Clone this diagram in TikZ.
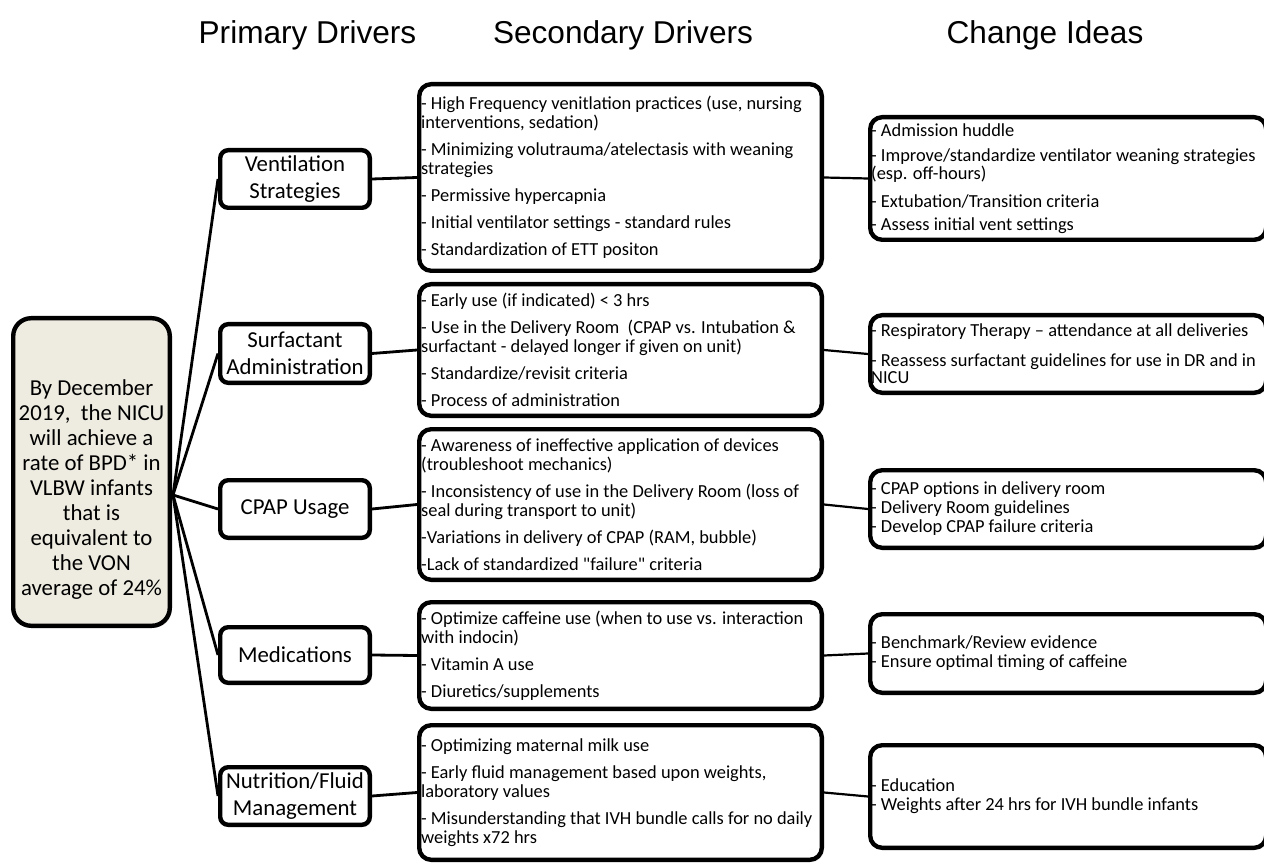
\documentclass[tikz,border=0pt]{standalone}
\usepackage{fontspec}
\setmainfont{Carlito}
\newfontfamily\headfont{Liberation Sans}
\usetikzlibrary{positioning}
\usetikzlibrary{shadows}
\definecolor{goalfill}{HTML}{EEECE1}

\begin{document}
\begin{tikzpicture}[x=0.5pt, y=-0.5pt,
    box/.style={draw, line width=2.2pt, fill=white, inner xsep=1pt, inner ysep=0pt,
      drop shadow={shadow xshift=1pt, shadow yshift=-1pt, opacity=0.25}},
    primbox/.style={box, rounded corners=4pt, align=flush center, text width=72.8pt,
      font=\fontsize{11.4}{13.5}\selectfont},
    secbox/.style={box, anchor=west, rounded corners=6pt, align=flush left, text width=199.3pt,
      font=\fontsize{9.2}{9.5}\selectfont},
    ideabox/.style={box, anchor=west, rounded corners=6pt, inner xsep=0.5pt, align=flush left,
      text width=197pt, font=\fontsize{9.2}{9.5}\selectfont},
    head/.style={font=\headfont\fontsize{15.8}{18}\selectfont},
    link/.style={line width=1.4pt},
    thinlink/.style={line width=1.1pt}]
  \useasboundingbox (0,0) rectangle (1264,866);

  % column heads
  \node[head] (hprim) at (307.5,35) {Primary Drivers};
  \node[head] (hsec) at (623,35) {Secondary Drivers};
  \node[head] (hidea) at (1045,35) {Change Ideas};

  % aim
  \node[box, fill=goalfill, rounded corners=9pt, minimum width=78.3pt, minimum height=153.8pt] (goal) at (91.5,472) {};
  \node[align=flush center, font=\fontsize{11.4}{12.5}\selectfont] (goaltext) at (91.5,490)
    {By December\\2019,\ \ the NICU\\will achieve a\\rate of BPD* in\\VLBW infants\\that is\\equivalent to\\the VON\\average of 24\%};
  \coordinate (hub) at (173,495);

  % primary drivers
  \node[primbox, minimum height=28.8pt] (vent) at (295,179) {Ventilation\\Strategies};
  \node[primbox, minimum height=29.3pt] (surf) at (295,353.5) {Surfactant\\Administration};
  \node[primbox, minimum height=28.8pt] (cpap) at (295,509) {CPAP Usage};
  \node[primbox, minimum height=27.8pt] (meds) at (295,655) {Medications};
  \node[primbox, minimum height=28.8pt] (nutr) at (295,796) {Nutrition/Fluid\\Management};

  % secondary drivers
  \node[secbox, minimum height=93.3pt] (ventsec) at (417,177.5)
    {- High Frequency venitlation practices (use, nursing\\interventions, sedation)\\[4pt]
     - Minimizing volutrauma/atelectasis with weaning\\strategies\\[4pt]
     - Permissive hypercapnia\\[4pt]
     - Initial ventilator settings - standard rules\\[4pt]
     - Standardization of ETT positon};
  \node[secbox, minimum height=65.8pt] (surfsec) at (417,350)
    {- Early use (if indicated) {<} 3 hrs\\[4pt]
     - Use in the Delivery Room\ \ (CPAP vs. Intubation \&\\surfactant - delayed longer if given on unit)\\[4pt]
     - Standardize/revisit criteria\\[4pt]
     - Process of administration};
  \node[secbox, minimum height=75.3pt] (cpapsec) at (417,504.5)
    {- Awareness of ineffective application of devices\\(troubleshoot mechanics)\\[4pt]
     - Inconsistency of use in the Delivery Room (loss of\\seal during transport to unit)\\[4pt]
     -Variations in delivery of CPAP (RAM, bubble)\\[4pt]
     -Lack of standardized \textquotedbl failure\textquotedbl\ criteria};
  \node[secbox, minimum height=53.3pt] (medssec) at (417,655.5)
    {- Optimize caffeine use (when to use vs. interaction\\with indocin)\\[4pt]
     - Vitamin A use\\[4pt]
     - Diuretics/supplements};
  \node[secbox, minimum height=67.3pt] (nutrsec) at (417,792.5)
    {- Optimizing maternal milk use\\[4pt]
     - Early fluid management based upon weights,\\laboratory values\\[4pt]
     - Misunderstanding that IVH bundle calls for no daily\\weights x72 hrs};

  % change ideas
  \node[ideabox, minimum height=61.3pt, font=\fontsize{9.2}{7.5}\selectfont] (ventidea) at (868,178.5)
    {- Admission huddle\\[5pt]
     - Improve/standardize ventilator weaning strategies\\(esp. off-hours)\\[5pt]
     - Extubation/Transition criteria\\[4pt]
     - Assess initial vent settings};
  \node[ideabox, minimum height=38.8pt, font=\fontsize{9.2}{7.5}\selectfont] (surfidea) at (868,354)
    {- Respiratory Therapy -- attendance at all deliveries\\[6pt]
     - Reassess surfactant guidelines for use in DR and in\\NICU};
  \node[ideabox, minimum height=38.8pt] (cpapidea) at (868,509)
    {- CPAP options in delivery room\\- Delivery Room guidelines\\- Develop CPAP failure criteria};
  \node[ideabox, minimum height=39.3pt] (medsidea) at (868,653.5)
    {- Benchmark/Review evidence\\- Ensure optimal timing of caffeine};
  \node[ideabox, minimum height=51.3pt] (nutridea) at (868,796.5)
    {- Education\\- Weights after 24 hrs for IVH bundle infants};

  % connectors
  \foreach \p in {vent,surf,cpap,meds,nutr} {
    \draw[link] (hub) -- (\p.west);
    \draw[link] (\p.east) -- (\p sec.west);
    \draw[thinlink] (\p sec.east) -- (\p idea.west);
  }
\end{tikzpicture}
\end{document}
